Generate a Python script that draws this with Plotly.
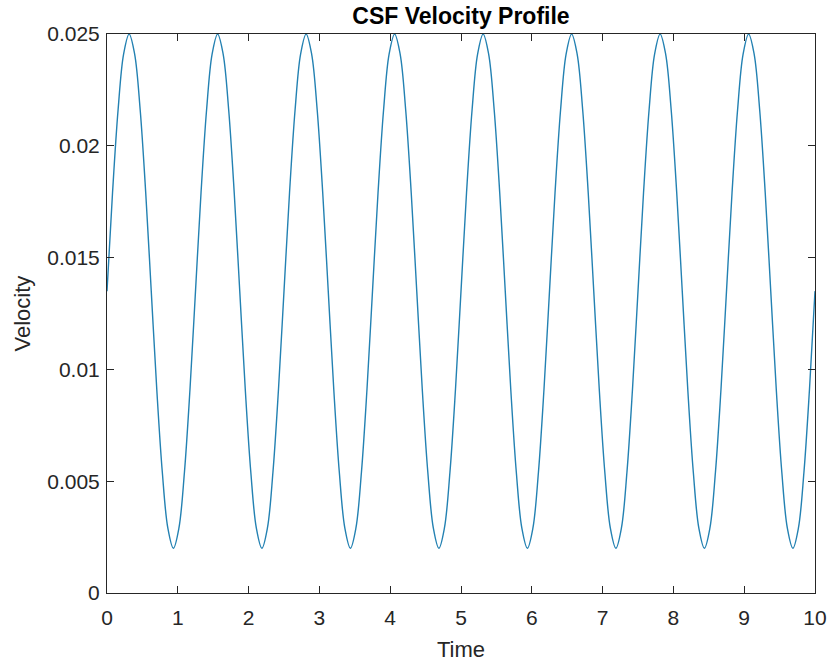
import plotly.graph_objects as go

time = [0, 0.0781, 0.1563, 0.2344, 0.3125, 0.3906, 0.4688, 0.5469, 0.625, 0.7031, 0.7813, 0.8594, 0.9375, 1.0156, 1.0938, 1.1719,
        1.25, 1.3281, 1.4063, 1.4844, 1.5625, 1.6406, 1.7188, 1.7969, 1.875, 1.9531, 2.0313, 2.1094, 2.1875, 2.2656, 2.3438, 2.4219,
        2.5, 2.5781, 2.6563, 2.7344, 2.8125, 2.8906, 2.9688, 3.0469, 3.125, 3.2031, 3.2813, 3.3594, 3.4375, 3.5156, 3.5938, 3.6719,
        3.75, 3.8281, 3.9063, 3.9844, 4.0625, 4.1406, 4.2188, 4.2969, 4.375, 4.4531, 4.5313, 4.6094, 4.6875, 4.7656, 4.8438, 4.9219,
        5.0, 5.0781, 5.1563, 5.2344, 5.3125, 5.3906, 5.4688, 5.5469, 5.625, 5.7031, 5.7813, 5.8594, 5.9375, 6.0156, 6.0938, 6.1719,
        6.25, 6.3281, 6.4063, 6.4844, 6.5625, 6.6406, 6.7188, 6.7969, 6.875, 6.9531, 7.0313, 7.1094, 7.1875, 7.2656, 7.3438, 7.4219,
        7.5, 7.5781, 7.6563, 7.7344, 7.8125, 7.8906, 7.9688, 8.0469, 8.125, 8.2031, 8.2813, 8.3594, 8.4375, 8.5156, 8.5938, 8.6719,
        8.75, 8.8281, 8.9063, 8.9844, 9.0625, 9.1406, 9.2188, 9.2969, 9.375, 9.4531, 9.5313, 9.6094, 9.6875, 9.7656, 9.8438, 9.9219,
        10.0]

velocity = [0.0135, 0.0179, 0.0216, 0.0241, 0.025, 0.0241, 0.0216, 0.0179, 0.0135, 0.0091, 0.0054, 0.0029, 0.002, 0.0029, 0.0054, 0.0091,
            0.0135, 0.0179, 0.0216, 0.0241, 0.025, 0.0241, 0.0216, 0.0179, 0.0135, 0.0091, 0.0054, 0.0029, 0.002, 0.0029, 0.0054, 0.0091,
            0.0135, 0.0179, 0.0216, 0.0241, 0.025, 0.0241, 0.0216, 0.0179, 0.0135, 0.0091, 0.0054, 0.0029, 0.002, 0.0029, 0.0054, 0.0091,
            0.0135, 0.0179, 0.0216, 0.0241, 0.025, 0.0241, 0.0216, 0.0179, 0.0135, 0.0091, 0.0054, 0.0029, 0.002, 0.0029, 0.0054, 0.0091,
            0.0135, 0.0179, 0.0216, 0.0241, 0.025, 0.0241, 0.0216, 0.0179, 0.0135, 0.0091, 0.0054, 0.0029, 0.002, 0.0029, 0.0054, 0.0091,
            0.0135, 0.0179, 0.0216, 0.0241, 0.025, 0.0241, 0.0216, 0.0179, 0.0135, 0.0091, 0.0054, 0.0029, 0.002, 0.0029, 0.0054, 0.0091,
            0.0135, 0.0179, 0.0216, 0.0241, 0.025, 0.0241, 0.0216, 0.0179, 0.0135, 0.0091, 0.0054, 0.0029, 0.002, 0.0029, 0.0054, 0.0091,
            0.0135, 0.0179, 0.0216, 0.0241, 0.025, 0.0241, 0.0216, 0.0179, 0.0135, 0.0091, 0.0054, 0.0029, 0.002, 0.0029, 0.0054, 0.0091,
            0.0135]

x_ticks = [0, 1, 2, 3, 4, 5, 6, 7, 8, 9, 10]
y_ticks = [0, 0.005, 0.01, 0.015, 0.02, 0.025]
y_tick_text = ["0", "0.005", "0.01", "0.015", "0.02", "0.025"]

FONT = "Liberation Sans, Arial, Helvetica, sans-serif"
AXC = "#262626"

fig = go.Figure()
fig.add_trace(go.Scatter(
    x=time, y=velocity, mode="lines",
    line=dict(color="#2381b2", width=1.4, shape="spline", smoothing=1),
    showlegend=False, cliponaxis=True,
))

axis_common = dict(
    showline=True, linecolor=AXC, linewidth=1, mirror="ticks",
    ticks="inside", ticklen=7, tickwidth=1, tickcolor=AXC,
    showgrid=False, zeroline=False, automargin=False,
    tickfont=dict(family=FONT, size=21, color=AXC),
)

fig.update_layout(
    width=830, height=664,
    margin=dict(l=107, r=15, t=34, b=71),
    paper_bgcolor="white", plot_bgcolor="white",
    title=dict(text="<b>CSF Velocity Profile</b>",
               font=dict(family=FONT, size=23, color="#000000"),
               x=0.5, xref="paper", xanchor="center",
               y=1 - 16 / 664, yref="container", yanchor="middle"),
    xaxis=dict(range=[0, 10], tickvals=x_ticks, ticklabelstandoff=6,
               **axis_common),
    yaxis=dict(range=[0, 0.025], tickvals=y_ticks, ticktext=y_tick_text,
               ticklabelstandoff=2, **axis_common),
    annotations=[
        dict(text="Time", xref="paper", yref="paper", x=0.5, y=-56 / 559,
             xanchor="center", yanchor="middle", showarrow=False,
             font=dict(family=FONT, size=22, color=AXC)),
        dict(text="Velocity", xref="paper", yref="paper", x=-85 / 708,
             y=0.5, xanchor="center", yanchor="middle", showarrow=False,
             textangle=-90, font=dict(family=FONT, size=22, color=AXC)),
    ],
)

fig.write_html("out.html")
